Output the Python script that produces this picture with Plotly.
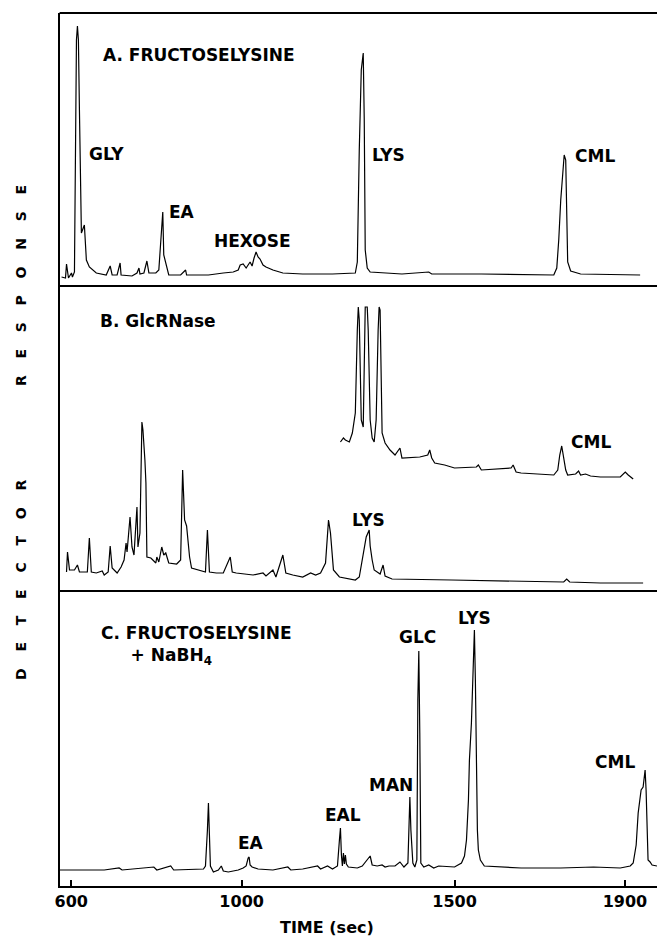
import plotly.graph_objects as go

# ---------------- data (time in sec, detector response in arbitrary units) ----------------
# Panel A: FRUCTOSELYSINE
a_time = [577.2, 586.5, 588.9, 593.5, 600.5, 602.8, 607.5, 612.2, 614.5, 616.8, 619.2, 621.5,
          623.8, 630.8, 635.5, 642.5, 658.8, 682.1, 691.4, 696.0, 707.7, 714.7, 717.0, 742.6,
          754.3, 759.0, 761.3, 770.6, 777.6, 782.3, 798.6, 805.6, 814.9, 817.2, 821.9, 828.9,
          856.8, 868.5, 870.8, 922.1, 957.0, 980.3, 992.0, 996.6, 1003.6, 1010.6, 1019.9,
          1024.6, 1029.2, 1033.9, 1038.6, 1043.2, 1050.2, 1057.2, 1073.5, 1096.8, 1143.4,
          1213.3, 1266.9, 1271.6, 1276.2, 1280.9, 1285.5, 1287.9, 1290.2, 1294.9, 1301.8,
          1376.4, 1439.3, 1446.3, 1562.8, 1732.9, 1739.9, 1744.5, 1749.2, 1753.9, 1757.3,
          1760.9, 1763.2, 1765.5, 1772.5, 1795.8, 1935.6]
a_resp = [9, 8, 22, 8, 13, 9, 14, 246, 260, 246, 176, 86,
          53, 61, 26, 19, 13, 11, 20, 11, 11, 23, 11, 10,
          13, 18, 12, 13, 25, 13, 13, 16, 74, 31, 24, 11,
          11, 16, 11, 11, 13, 14, 16, 21, 22, 18, 24,
          20, 28, 34, 29, 27, 21, 19, 16, 13, 12,
          12, 13, 24, 136, 216, 233, 166, 36, 18, 14,
          12, 14, 12, 12, 11, 18, 46, 86, 118, 131,
          126, 66, 24, 15, 12, 11]

# Panel B: GlcRNase (lower trace, full scale)
b_time = [588.9, 591.2, 595.9, 607.5, 614.5, 619.2, 637.8, 642.5, 647.1, 658.8, 672.7, 677.4,
          686.7, 691.4, 696.0, 707.7, 717.0, 724.0, 728.7, 731.0, 738.0, 742.6, 747.3, 754.3,
          756.6, 761.3, 765.9, 768.3, 772.9, 775.3, 777.6, 786.9, 798.6, 800.9, 805.6, 812.5,
          817.2, 821.9, 828.9, 847.5, 856.8, 861.5, 866.1, 870.8, 877.8, 882.4, 915.1, 919.7,
          924.4, 940.7, 957.0, 973.3, 978.0, 987.3, 1026.9, 1050.2, 1057.2, 1073.5, 1080.5,
          1096.8, 1103.8, 1120.1, 1143.4, 1162.0, 1173.7, 1185.3, 1197.0, 1204.0, 1208.6,
          1215.6, 1229.6, 1266.9, 1276.2, 1285.5, 1292.5, 1299.5, 1301.8, 1306.5, 1311.2,
          1325.1, 1332.1, 1336.8, 1353.1, 1492.9, 1702.6, 1756.2, 1763.2, 1770.2, 1842.4,
          1942.6]
b_resp = [19, 39, 21, 21, 26, 19, 19, 53, 19, 18, 20, 16,
          19, 45, 23, 18, 24, 31, 48, 39, 74, 44, 36, 84,
          44, 58, 169, 161, 131, 108, 34, 33, 28, 34, 29, 44,
          36, 38, 28, 27, 31, 121, 71, 65, 34, 23, 19, 61,
          19, 18, 18, 34, 19, 18, 16, 18, 15, 21, 14,
          36, 18, 16, 14, 18, 16, 18, 28, 71, 58,
          21, 14, 11, 14, 36, 54, 61, 45, 31, 21,
          17, 26, 15, 12, 11, 10, 9, 12, 9, 8,
          8]

# Panel B: GlcRNase (upper trace, expanded scale)
b2_time = [1232.0, 1239.0, 1243.6, 1252.9, 1259.9, 1266.9, 1271.6, 1273.9, 1276.2, 1280.9,
           1285.5, 1287.9, 1290.2, 1294.9, 1297.2, 1301.8, 1306.5, 1311.2, 1315.8, 1320.5,
           1322.8, 1325.1, 1327.5, 1329.8, 1336.8, 1348.4, 1360.1, 1369.4, 1371.7, 1376.4,
           1418.3, 1437.0, 1441.6, 1446.3, 1453.3, 1476.6, 1499.9, 1551.2, 1555.8, 1562.8,
           1632.7, 1637.4, 1644.4, 1656.0, 1732.9, 1742.2, 1746.9, 1751.5, 1756.2, 1760.9,
           1765.5, 1784.2, 1791.1, 1795.8, 1807.4, 1819.1, 1842.4, 1889.0, 1900.7, 1907.6,
           1919.3]
b2_resp = [149, 153, 151, 149, 158, 178, 261, 284, 271, 171,
           164, 211, 284, 284, 261, 171, 153, 149, 171, 261,
           284, 281, 211, 158, 148, 141, 136, 141, 143, 133,
           134, 136, 141, 133, 128, 126, 123, 124, 126, 121,
           123, 126, 119, 118, 116, 121, 136, 145, 133, 121,
           116, 117, 120, 116, 117, 115, 114, 114, 119, 116,
           112]

# Panel C: FRUCTOSELYSINE + NaBH4
c_time = [572.6, 677.4, 712.4, 719.3, 793.9, 800.9, 833.5, 840.5, 910.4, 915.1, 919.7, 922.1,
          924.4, 926.7, 933.7, 945.4, 952.3, 957.0, 968.7, 992.0, 1003.6, 1010.6, 1015.3,
          1017.6, 1019.9, 1024.6, 1038.6, 1073.5, 1108.5, 1115.4, 1143.4, 1178.4, 1185.3,
          1201.7, 1213.3, 1225.0, 1229.6, 1232.0, 1234.3, 1236.6, 1239.0, 1241.3, 1243.6,
          1246.0, 1250.6, 1271.6, 1283.2, 1301.8, 1306.5, 1318.2, 1329.8, 1336.8, 1346.1,
          1360.1, 1371.7, 1381.1, 1390.4, 1392.7, 1395.0, 1397.4, 1402.0, 1406.7, 1411.4,
          1413.7, 1416.0, 1418.3, 1420.7, 1427.7, 1439.3, 1451.0, 1462.6, 1499.9, 1516.2,
          1523.2, 1527.9, 1532.5, 1534.8, 1539.5, 1541.8, 1544.2, 1546.5, 1548.8, 1551.2,
          1553.5, 1555.8, 1560.5, 1569.8, 1656.0, 1749.2, 1826.1, 1889.0, 1912.3, 1919.3,
          1926.3, 1931.0, 1937.9, 1942.6, 1944.9, 1947.3, 1949.6, 1951.9, 1954.2, 1958.9,
          1963.6, 1975.2]
c_resp = [16, 16, 18, 16, 19, 16, 20, 16, 17, 20, 56, 83,
          51, 20, 14, 16, 20, 15, 14, 16, 18, 20, 28,
          29, 21, 19, 17, 16, 19, 16, 17, 20, 17,
          20, 17, 20, 46, 58, 31, 20, 33, 22, 31,
          22, 19, 18, 20, 30, 21, 20, 21, 19, 20,
          20, 24, 19, 23, 56, 89, 56, 23, 19, 26,
          186, 235, 153, 23, 19, 21, 18, 20, 19, 23,
          30, 46, 86, 126, 163, 196, 236, 256, 206, 106,
          56, 36, 26, 20, 18, 18, 19, 18, 20, 23,
          41, 73, 96, 99, 111, 116, 96, 66, 26, 24,
          21, 20]

tick_vals = [600, 1000, 1500, 1900]
tick_text = ["600", "1000", "1500", "1900"]

# ---------------- figure ----------------
W, H = 657, 937
FONT = "DejaVu Sans"
line_style = dict(color="black", width=1.2)

fig = go.Figure()
fig.add_trace(go.Scatter(x=a_time, y=a_resp, mode="lines", line=line_style, xaxis="x", yaxis="y"))
fig.add_trace(go.Scatter(x=b_time, y=b_resp, mode="lines", line=line_style, xaxis="x", yaxis="y2"))
fig.add_trace(go.Scatter(x=b2_time, y=b2_resp, mode="lines", line=line_style, xaxis="x", yaxis="y2"))
fig.add_trace(go.Scatter(x=c_time, y=c_resp, mode="lines", line=line_style, xaxis="x", yaxis="y3"))

x0 = 55 / W
dA = [1 - 286 / H, 1 - 13 / H]
dB = [1 - 591 / H, 1 - 286 / H]
dC = [1 - 886 / H, 1 - 591 / H]

yax = dict(showline=True, linecolor="black", linewidth=2, showticklabels=False,
           showgrid=False, zeroline=False, ticks="", anchor="x")

fig.update_layout(
    width=W, height=H,
    margin=dict(l=0, r=0, t=0, b=0),
    paper_bgcolor="white", plot_bgcolor="white",
    showlegend=False,
    xaxis=dict(domain=[x0, 1.0], range=[572.6, 1975.2], anchor="y3",
               showline=True, linecolor="black", linewidth=2,
               ticks="inside", ticklen=6, tickwidth=1.5, tickcolor="black",
               tickvals=tick_vals, ticktext=tick_text,
               tickfont=dict(family=FONT, size=16, color="black", weight="bold"),
               showgrid=False, zeroline=False),
    yaxis=dict(domain=dA, range=[0, 273], **yax),
    yaxis2=dict(domain=dB, range=[0, 305], **yax),
    yaxis3=dict(domain=dC, range=[0, 295], **yax),
)

# panel separators / top frame
for yy in [dA[1], dA[0], dB[0]]:
    fig.add_shape(type="line", xref="paper", yref="paper", x0=x0, x1=1.0, y0=yy, y1=yy,
                  line=dict(color="black", width=2))

lab_font = dict(family=FONT, size=17, color="black", weight="bold")

def lab(text, x, y, yref, yanchor="middle"):
    fig.add_annotation(text=text, x=x, y=y, xref="x", yref=yref, xanchor="left",
                       yanchor=yanchor, showarrow=False, font=lab_font, align="left")

# Panel A labels
lab("A. FRUCTOSELYSINE", 670.4, 231, "y")
lab("GLY", 637.8, 132, "y")
lab("EA", 824.2, 74, "y")
lab("HEXOSE", 931.4, 45, "y")
lab("LYS", 1301.8, 131, "y")
lab("CML", 1777.2, 130, "y")
# Panel B labels
lab("B. GlcRNase", 663.4, 270, "y2")
lab("CML", 1767.8, 149, "y2")
lab("LYS", 1255.2, 71, "y2")
# Panel C labels
lab("C. FRUCTOSELYSINE<br>" + "\u00a0" * 5 + "+ NaBH<sub>4</sub>", 665.7, 265, "y3", "top")
lab("EA", 987.3, 43, "y3")
lab("EAL", 1190.0, 71, "y3")
lab("MAN", 1294.7, 101, "y3")
lab("GLC", 1364.6, 249, "y3")
lab("LYS", 1504.4, 268, "y3")
lab("CML", 1826.0, 124, "y3")

# x axis title
fig.add_annotation(text="TIME (sec)", x=324 / W, y=1 - 927 / H, xref="paper", yref="paper",
                   showarrow=False, xanchor="center", yanchor="middle",
                   font=dict(family=FONT, size=16, color="black", weight="bold"))

# vertical axis title (widely letter-spaced)
sep = "\u2002\u00a0\u00a0"
word_gap = "\u2003" * 6 + "\u00a0\u00a0"
ytitle = sep.join("DETECTOR") + word_gap + sep.join("RESPONSE")
fig.add_annotation(text=ytitle, x=16 / W, y=1 - 432 / H, xref="paper", yref="paper",
                   textangle=-90, showarrow=False, xanchor="center", yanchor="middle",
                   font=dict(family=FONT, size=14, color="black", weight="bold"))

fig.write_html("out.html")
